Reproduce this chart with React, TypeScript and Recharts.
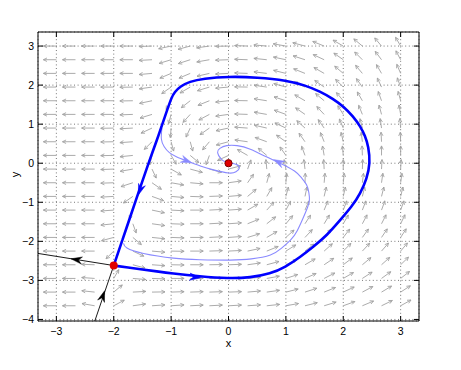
import React from 'react';
import {
  ScatterChart,
  Scatter,
  XAxis,
  YAxis,
  CartesianGrid,
  ReferenceLine,
  ReferenceArea,
} from 'recharts';

const FONT = "'Liberation Sans', Arial, Helvetica, sans-serif";

const X_DOMAIN = [-3.32, 3.32];
const Y_DOMAIN = [-4.04, 3.36];
const X_TICKS = [-3, -2, -1, 0, 1, 2, 3];
const Y_TICKS = [-4, -3, -2, -1, 0, 1, 2, 3];

// direction field grid
const FIELD_X = [-3, -2.667, -2.333, -2, -1.667, -1.333, -1, -0.667, -0.333, 0, 0.333, 0.667, 1, 1.333, 1.667, 2, 2.333, 2.667, 3];
const FIELD_Y = [3, 2.65, 2.3, 1.95, 1.6, 1.25, 0.9, 0.55, 0.2, -0.15, -0.5, -0.85, -1.2, -1.55, -1.9, -2.25, -2.6, -2.95, -3.3, -3.65];
// on-screen arrow direction in degrees (0 = right, 90 = up), one row per FIELD_Y
const FIELD_ANGLE: (number | null)[][] = [
  [180, 180, 180, 180, 180, 182, 192, 195, 188, 181, 178, 175, 170, 165, 158, 150, 140, 130, 120],
  [180, 180, 180, 180, 180, 183, 197, 198, 190, 182, 178, 174, 168, 162, 155, 145, 135, 127, 118],
  [180, 180, 180, 180, 180, 185, 203, 203, 193, 183, 178, 173, 166, 158, 150, 140, 130, 120, 113],
  [180, 180, 180, 180, 181, 188, 215, 210, 197, 185, 179, 172, 164, 155, 145, 135, 125, 115, 110],
  [180, 180, 180, 180, 181, 192, 240, 218, 202, 186, 179, 171, 162, 150, 140, 130, 120, 110, 105],
  [180, 180, 180, 180, 182, 197, 255, 228, 208, 188, 178, 170, 160, 145, 133, 122, 112, 105, 100],
  [180, 180, 180, 181, 183, 205, 265, 245, 215, 192, 176, 167, 155, 138, 125, 113, 104, 98, 95],
  [180, 180, 180, 181, 184, 225, 285, 285, 230, 195, 172, 160, 145, 125, 112, 103, 97, 93, 92],
  [180, 180, 180, 181, 186, 257, 300, 320, 250, 205, 150, 140, 125, 110, 100, 95, 92, 90, 90],
  [180, 180, 180, 182, 190, 295, 330, 345, 345, 15, 70, 95, 100, 97, 93, 90, 88, 87, 87],
  [180, 180, 180, 182, 198, 325, 350, 355, 0, 8, 55, 75, 85, 88, 85, 84, 83, 82, 82],
  [180, 180, 180, 183, 215, 340, 355, 358, 2, 5, 40, 60, 75, 78, 77, 77, 76, 76, 76],
  [180, 180, 180, 184, 250, 348, 357, 0, 3, 4, 30, 48, 62, 67, 68, 69, 69, 70, 70],
  [180, 180, 180, 186, 290, 352, 358, 0, 3, 4, 22, 38, 50, 57, 59, 60, 62, 63, 64],
  [180, 180, 180, 195, 320, 354, 358, 0, 3, 4, 17, 30, 42, 47, 50, 52, 54, 56, 57],
  [180, 180, 180, 225, 335, 355, 359, 0, 2, 3, 12, 22, 32, 38, 42, 45, 47, 49, 50],
  [180, 180, 178, null, 345, 356, 359, 0, 1, 2, 8, 15, 25, 30, 34, 37, 40, 42, 44],
  [180, 180, 176, 60, 355, 358, 0, 1, 1, 1, 5, 10, 18, 24, 27, 30, 33, 36, 38],
  [180, 180, 174, 40, 3, 1, 2, 2, 2, 2, 5, 8, 14, 18, 22, 25, 28, 31, 33],
  [180, 180, 170, 28, 8, 4, 4, 3, 3, 3, 4, 6, 10, 14, 17, 20, 23, 26, 29],
];

// homoclinic orbit through the saddle
const LOOP = [
  [-2.0, -2.62], [-1.75, -2.67], [-1.5, -2.72], [-1.25, -2.77], [-1.0, -2.82], [-0.5, -2.9],
  [0, -2.95], [0.38, -2.93], [0.73, -2.83], [0.99, -2.66], [1.25, -2.4], [1.48, -2.14],
  [1.72, -1.84], [1.95, -1.45], [2.15, -1.11], [2.3, -0.77], [2.41, -0.4], [2.47, 0],
  [2.44, 0.43], [2.38, 0.7], [2.3, 0.94], [2.17, 1.2], [2.01, 1.45], [1.82, 1.65],
  [1.6, 1.84], [1.32, 2.0], [1.02, 2.12], [0.5, 2.2], [0, 2.22], [-0.44, 2.17],
  [-0.68, 2.09], [-0.84, 1.97], [-0.94, 1.82], [-0.99, 1.7], [-1.1, 1.23], [-1.25, 0.58],
  [-1.4, -0.02], [-1.55, -0.67], [-1.7, -1.32], [-1.85, -1.97], [-2.0, -2.62],
];

const SPIRAL_OUTER = [
  [-1.83, -2.05], [-1.77, -2.17], [-1.48, -2.31], [-0.96, -2.43], [-0.5, -2.47], [0.03, -2.48],
  [0.4, -2.45], [0.73, -2.35], [0.92, -2.18], [1.08, -1.97], [1.2, -1.72], [1.31, -1.37],
  [1.38, -1.12], [1.41, -0.94], [1.4, -0.75], [1.36, -0.55], [1.27, -0.37], [1.15, -0.2],
  [0.9, 0], [0.65, 0.17], [0.38, 0.36], [0.15, 0.45], [-0.03, 0.45], [-0.15, 0.38],
  [-0.19, 0.27], [-0.13, 0.11], [-0.05, 0.03], [0, 0],
];

const SPIRAL_INNER = [
  [-1.16, 0.9], [-1.17, 0.62], [-1.12, 0.42], [-1.03, 0.27], [-0.9, 0.16], [-0.73, 0.06],
  [-0.49, -0.07], [-0.26, -0.17], [0, -0.25], [0.13, -0.22], [0.19, -0.12], [0.14, -0.03],
  [0.05, 0], [0, 0],
];

const UNSTABLE_LEFT = [[-2.0, -2.62], [-3.32, -2.31]];
const STABLE_LOW = [[-2.33, -4.04], [-2.0, -2.62]];

// arrowheads on the curves: x, y, screen direction in degrees
const LOOP_HEADS = [[-1.54, -0.68, 251], [-0.58, -2.92, 354]];
const SPIRAL_HEADS = [[-0.73, 0.06, 339], [0.87, 0.03, 153]];
const BLACK_HEADS = [[-2.65, -2.47, 171], [-2.19, -3.4, 71]];

const SADDLE = [[-2.0, -2.62]];
const FOCUS = [[0, 0]];

const LIGHT = '#8a8aff';

const toPts = (arr: number[][]) => arr.map(([x, y, a]) => ({ x, y, a }));

const fieldPts = FIELD_Y.flatMap((y, r) =>
  FIELD_X.map((x, c) => ({ x, y, a: FIELD_ANGLE[r][c] })),
).filter((p) => p.a !== null);

const FieldArrow = (props: any) => {
  const { cx, cy, payload } = props;
  const a = (payload.a * Math.PI) / 180;
  const c = Math.cos(a);
  const s = Math.sin(a);
  const len = 1 / Math.sqrt((c / 13) ** 2 + (s / 9.5) ** 2);
  const tx = cx + len * c;
  const ty = cy - len * s;
  const h = 4;
  const w = 0.45;
  const b1x = tx - h * Math.cos(a - w);
  const b1y = ty + h * Math.sin(a - w);
  const b2x = tx - h * Math.cos(a + w);
  const b2y = ty + h * Math.sin(a + w);
  return (
    <path
      d={`M${cx},${cy}L${tx},${ty}M${b1x},${b1y}L${tx},${ty}L${b2x},${b2y}`}
      stroke="#a2a2a2"
      strokeWidth={0.9}
      fill="none"
    />
  );
};

const makeHead = (color: string) => (props: any) => {
  const { cx, cy, payload } = props;
  const a = (payload.a * Math.PI) / 180;
  const c = Math.cos(a);
  const s = Math.sin(a);
  const pt = (u: number, v: number) => `${cx + u * c - v * s},${cy - (u * s + v * c)}`;
  const L = 5.5;
  const W = 3.6;
  return (
    <polygon
      points={[pt(L, 0), pt(-L, W), pt(-L * 0.35, 0), pt(-L, -W)].join(' ')}
      fill={color}
      stroke={color}
      strokeWidth={0.5}
    />
  );
};

const noDot = () => <g />;

const fmt = (v: number) => (v < 0 ? `\u2212${-v}` : `${v}`);

const XTick = (p: any) => (
  <g>
    <line x1={p.x} y1={p.y} x2={p.x} y2={p.y - 5} stroke="#000" />
    <text x={p.x} y={p.y + 14} textAnchor="middle" fontSize={10.5} fontFamily={FONT} fill="#000">
      {fmt(p.payload.value)}
    </text>
  </g>
);

const YTick = (p: any) => (
  <g>
    <line x1={p.x} y1={p.y} x2={p.x + 5} y2={p.y} stroke="#000" />
    <text x={p.x - 4} y={p.y + 3.8} textAnchor="end" fontSize={10.5} fontFamily={FONT} fill="#000">
      {fmt(p.payload.value)}
    </text>
  </g>
);

const tickPxX = 5 / 57.2;
const tickPxY = 5 / 39;

export default function App() {
  return (
    <div style={{ width: 461, height: 370 }}>
      <style>{'body{margin:0}'}</style>
      <ScatterChart width={461} height={370} margin={{ top: 32, right: 42, bottom: 19, left: 0 }}>
        <CartesianGrid stroke="#555" strokeDasharray="1 2.6" strokeWidth={0.8} />
        <XAxis
          type="number"
          dataKey="x"
          domain={X_DOMAIN}
          ticks={X_TICKS}
          interval={0}
          allowDataOverflow
          height={30}
          tickSize={0}
          tickMargin={0}
          tickLine={false}
          axisLine={false}
          tick={XTick}
          label={{
            value: 'x',
            content: (lp: any) => (
              <text
                x={lp.viewBox.x + lp.viewBox.width / 2}
                y={lp.viewBox.y + 26}
                textAnchor="middle"
                fontSize={11}
                fontFamily={FONT}
              >
                x
              </text>
            ),
          }}
        />
        <YAxis
          type="number"
          dataKey="y"
          domain={Y_DOMAIN}
          ticks={Y_TICKS}
          interval={0}
          allowDataOverflow
          width={38}
          tickSize={0}
          tickMargin={0}
          tickLine={false}
          axisLine={false}
          tick={YTick}
          label={{
            value: 'y',
            content: (lp: any) => {
              const cx = 15;
              const cy = lp.viewBox.y + lp.viewBox.height / 2 - 2;
              return (
                <text
                  x={cx}
                  y={cy}
                  transform={`rotate(-90 ${cx} ${cy})`}
                  textAnchor="middle"
                  dominantBaseline="central"
                  fontSize={11}
                  fontFamily={FONT}
                >
                  y
                </text>
              );
            },
          }}
        />

        <Scatter data={fieldPts} shape={FieldArrow} isAnimationActive={false} />

        <Scatter
          data={toPts(SPIRAL_OUTER)}
          line={{ stroke: LIGHT, strokeWidth: 1.1 }}
          lineJointType="natural"
          shape={noDot}
          isAnimationActive={false}
        />
        <Scatter
          data={toPts(SPIRAL_INNER)}
          line={{ stroke: LIGHT, strokeWidth: 1.1 }}
          lineJointType="natural"
          shape={noDot}
          isAnimationActive={false}
        />
        <Scatter
          data={toPts(UNSTABLE_LEFT)}
          line={{ stroke: '#000', strokeWidth: 0.9 }}
          shape={noDot}
          isAnimationActive={false}
        />
        <Scatter
          data={toPts(STABLE_LOW)}
          line={{ stroke: '#000', strokeWidth: 0.9 }}
          shape={noDot}
          isAnimationActive={false}
        />
        <Scatter
          data={toPts(LOOP)}
          line={{ stroke: '#0000ff', strokeWidth: 2.6, strokeLinejoin: 'round' }}
          lineJointType="basis"
          shape={noDot}
          isAnimationActive={false}
        />

        <Scatter data={toPts(SPIRAL_HEADS)} shape={makeHead(LIGHT)} isAnimationActive={false} />
        <Scatter data={toPts(LOOP_HEADS)} shape={makeHead('#0000ff')} isAnimationActive={false} />
        <Scatter data={toPts(BLACK_HEADS)} shape={makeHead('#000')} isAnimationActive={false} />

        <Scatter
          data={toPts(SADDLE)}
          shape={(p: any) => <circle cx={p.cx} cy={p.cy} r={4} fill="#e00000" />}
          isAnimationActive={false}
        />
        <Scatter
          data={toPts(FOCUS)}
          shape={(p: any) => <circle cx={p.cx} cy={p.cy} r={3.6} fill="#e00000" stroke="#700" strokeWidth={1} />}
          isAnimationActive={false}
        />

        {X_TICKS.map((t) => (
          <ReferenceLine
            key={`tx${t}`}
            segment={[{ x: t, y: Y_DOMAIN[1] }, { x: t, y: Y_DOMAIN[1] - tickPxY }]}
            stroke="#000"
          />
        ))}
        {Y_TICKS.map((t) => (
          <ReferenceLine
            key={`ty${t}`}
            segment={[{ x: X_DOMAIN[1], y: t }, { x: X_DOMAIN[1] - tickPxX, y: t }]}
            stroke="#000"
          />
        ))}
        <ReferenceArea
          x1={X_DOMAIN[0]}
          x2={X_DOMAIN[1]}
          y1={Y_DOMAIN[0]}
          y2={Y_DOMAIN[1]}
          fill="none"
          stroke="#000"
          strokeWidth={1}
          ifOverflow="visible"
        />
      </ScatterChart>
    </div>
  );
}
